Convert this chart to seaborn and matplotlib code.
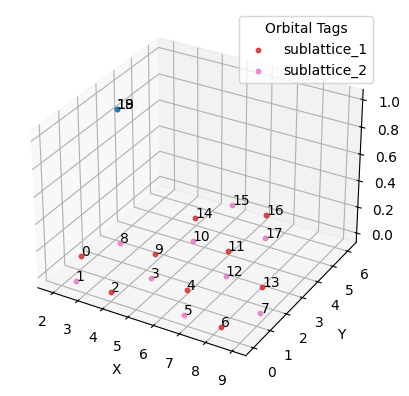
import numpy as np
import matplotlib
matplotlib.use("Agg")
import matplotlib.pyplot as plt
import seaborn as sns

# site coordinates (honeycomb flake + two sites lifted to z=1)
site_x = [1.89, 2.60, 4.02, 4.73, 6.15, 6.86, 8.28, 8.99, 2.60, 4.02,
          4.73, 6.15, 6.86, 8.28, 4.02, 4.73, 6.15, 6.86, 2.60, 2.60]
site_y = [1.23, 0.00, 0.00, 1.23, 1.23, 0.00, 0.00, 1.23, 2.46, 2.46,
          3.69, 3.69, 2.46, 2.46, 4.92, 6.15, 6.15, 4.92, 2.46, 2.46]
site_z = [0] * 18 + [1, 1]
site_tag = ["sublattice_1", "sublattice_2"] * 4 + \
           ["sublattice_2", "sublattice_1", "sublattice_2", "sublattice_1",
            "sublattice_2", "sublattice_1", "sublattice_1", "sublattice_2",
            "sublattice_1", "sublattice_2", None, None]
tag_names = ["sublattice_1", "sublattice_2"]

pal = sns.color_palette("tab10")
tag_colors = {"sublattice_1": pal[3], "sublattice_2": pal[6]}

site_x = np.array(site_x)
site_y = np.array(site_y)
site_z = np.array(site_z)
tags = np.array(site_tag, dtype=object)

fig = plt.figure(figsize=(4.09, 3.96), dpi=100)
ax = fig.add_axes([10 / 409, 17 / 396, 370 / 409, 370 / 396], projection="3d")

for t in tag_names:
    m = tags == t
    ax.scatter(site_x[m], site_y[m], site_z[m], color=tag_colors[t], s=10,
               alpha=0.8, depthshade=False, label=t)

# sites without a tag
m = np.array([t is None for t in tags])
ax.scatter(site_x[m], site_y[m], site_z[m], color=pal[0], s=10,
           alpha=0.8, depthshade=False)

for i in range(len(site_x)):
    ax.text(site_x[i], site_y[i], site_z[i], str(i), fontsize=10)

ax.set_xlabel("X")
ax.set_ylabel("Y")
ax.legend(title="Orbital Tags")

fig.savefig("out.png", dpi=100)
